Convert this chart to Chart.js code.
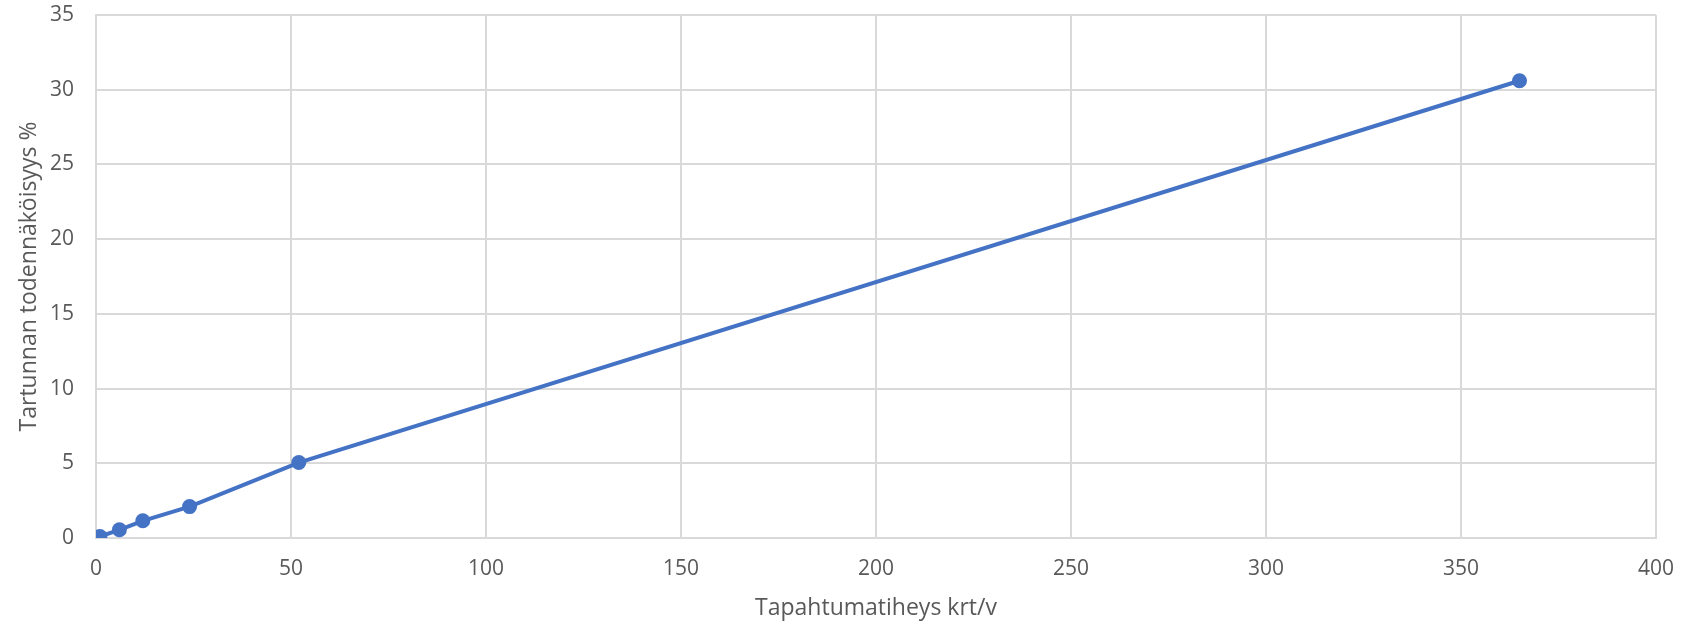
<!DOCTYPE html>
<html>
<head>
<meta charset="utf-8">
<script src="https://cdn.jsdelivr.net/npm/chart.js@4.4.1/dist/chart.umd.min.js"></script>
<style>
html,body{margin:0;padding:0;background:#fff;}
#wrap{width:1684px;height:624px;}
</style>
</head>
<body>
<div id="wrap"><canvas id="c" width="1684" height="624"></canvas></div>
<script>
const frequency = [1, 6, 12, 24, 52, 365];
const probability = [0.1, 0.55, 1.15, 2.1, 5.05, 30.6];
const xTitle = "Tapahtumatiheys krt/v";
const yTitle = "Tartunnan todennäköisyys %";

const FONT = "'Open Sans', 'Noto Sans', sans-serif";
const TXT = '#595959';
const GRID = '#d9d9d9';

new Chart(document.getElementById('c'), {
  type: 'scatter',
  data: {
    datasets: [{
      data: frequency.map((x, i) => ({x: x, y: probability[i]})),
      showLine: true,
      borderColor: '#4472c4',
      backgroundColor: '#4472c4',
      borderWidth: 4,
      pointRadius: 7.5,
      pointHoverRadius: 7.5,
      pointBorderWidth: 0
    }]
  },
  options: {
    responsive: false,
    animation: false,
    devicePixelRatio: 1,
    layout: {padding: {top: 15, right: 28, left: 0, bottom: 0}},
    plugins: {legend: {display: false}, tooltip: {enabled: false}},
    scales: {
      x: {
        type: 'linear', min: 0, max: 400,
        ticks: {stepSize: 50, color: TXT, font: {family: FONT, size: 21}, padding: 18},
        grid: {color: GRID, lineWidth: 2, drawTicks: false},
        border: {color: GRID, width: 2},
        title: {display: true, text: xTitle, color: TXT, font: {family: FONT, size: 23}, padding: {top: 4, bottom: 2}},
        afterFit: s => { s.height = 86; s.paddingLeft = 0; s.paddingRight = 0; }
      },
      y: {
        min: 0, max: 35,
        ticks: {stepSize: 5, color: TXT, font: {family: FONT, size: 21}, padding: 22},
        grid: {color: GRID, lineWidth: 2, drawTicks: false},
        border: {color: GRID, width: 2},
        title: {display: true, text: yTitle, color: TXT, font: {family: FONT, size: 23}, padding: {top: 16, bottom: 4}},
        afterFit: s => { s.width = 96; s.paddingTop = 0; s.paddingBottom = 0; }
      }
    }
  }
});
</script>
</body>
</html>
